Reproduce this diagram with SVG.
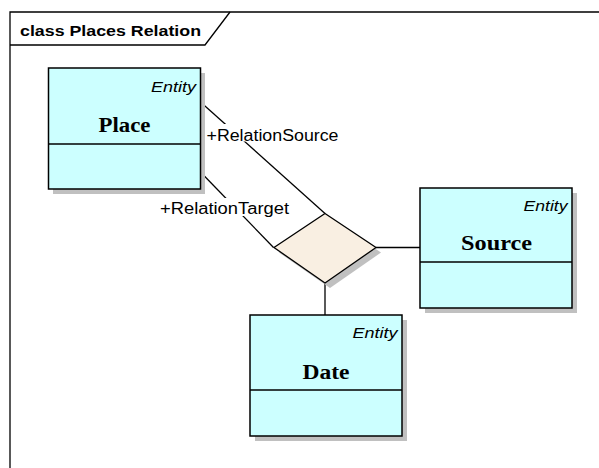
<svg xmlns="http://www.w3.org/2000/svg" width="599" height="468" viewBox="0 0 599 468">
  <style>
    .frame { fill: none; stroke: #000; stroke-width: 1.3; }
    .shadow { fill: #c0c0c0; stroke: none; }
    .box { fill: #ccffff; stroke: #000; stroke-width: 1.5; }
    .div { stroke: #000; stroke-width: 1.3; }
    .stereo { font-family: "Liberation Sans", Arial, sans-serif; font-style: italic; font-size: 14px; fill: #000; text-anchor: end; }
    .name { font-family: "Liberation Serif", "Times New Roman", serif; font-weight: bold; font-size: 20px; fill: #000; text-anchor: middle; }
    .title { font-family: "Liberation Sans", Arial, sans-serif; font-weight: bold; font-size: 15.5px; fill: #000; }
    .role { font-family: "Liberation Sans", Arial, sans-serif; font-size: 16px; fill: #000; }
    .conn { fill: none; stroke: #000; stroke-width: 1.3; }
    .diamond { fill: #f9efe2; stroke: #000; stroke-width: 1.3; }
  </style>
  <rect width="599" height="468" fill="#fff"/>

  <!-- diagram frame with name tab -->
  <g id="frame">
    <path class="frame" d="M10,468 V12 H599"/>
    <path class="frame" d="M10,45 H205 L230,12"/>
    <text class="title" x="20" y="36" textLength="181" lengthAdjust="spacingAndGlyphs">class Places Relation</text>
  </g>

  <!-- association lines -->
  <g id="connectors">
    <path class="conn" d="M200.5,102 L325,213.5"/>
    <path class="conn" d="M200.5,172 L273.5,247.5"/>
    <path class="conn" d="M376,247.5 H420"/>
    <path class="conn" d="M325,282.5 V315"/>
    <rect x="205" y="124" width="137" height="17.5" fill="#fff"/>
    <text class="role" x="206.5" y="141" textLength="132" lengthAdjust="spacingAndGlyphs">+RelationSource</text>
    <rect x="158" y="198" width="133" height="18" fill="#fff"/>
    <text class="role" x="160" y="213.5" textLength="129" lengthAdjust="spacingAndGlyphs">+RelationTarget</text>
  </g>

  <!-- n-ary association diamond -->
  <g id="relation">
    <polygon class="shadow" points="330,218.5 381,252.5 330,288 279,252.5"/>
    <polygon class="diamond" points="325,213.5 376,247.5 325,283 274,247.5"/>
  </g>

  <g id="place">
    <rect class="shadow" x="53" y="73" width="152" height="121"/>
    <rect class="box" x="48.5" y="68" width="152" height="121"/>
    <line class="div" x1="48.5" y1="144" x2="200.5" y2="144"/>
    <text class="stereo" x="196" y="92" textLength="45" lengthAdjust="spacingAndGlyphs">Entity</text>
    <text class="name" x="124.5" y="131.5" textLength="52" lengthAdjust="spacingAndGlyphs">Place</text>
  </g>

  <g id="source">
    <rect class="shadow" x="425" y="193" width="152" height="120"/>
    <rect class="box" x="420" y="188" width="152" height="120"/>
    <line class="div" x1="420" y1="262" x2="572" y2="262"/>
    <text class="stereo" x="567.5" y="210.5" textLength="44" lengthAdjust="spacingAndGlyphs">Entity</text>
    <text class="name" x="496.5" y="250" textLength="71" lengthAdjust="spacingAndGlyphs">Source</text>
  </g>

  <g id="date">
    <rect class="shadow" x="255" y="320" width="152" height="121"/>
    <rect class="box" x="250" y="315" width="152" height="121"/>
    <line class="div" x1="250" y1="390" x2="402" y2="390"/>
    <text class="stereo" x="397.5" y="338" textLength="45" lengthAdjust="spacingAndGlyphs">Entity</text>
    <text class="name" x="326" y="379" textLength="47" lengthAdjust="spacingAndGlyphs">Date</text>
  </g>
</svg>
